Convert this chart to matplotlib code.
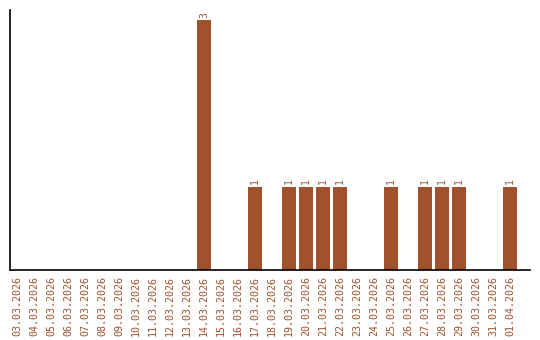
import matplotlib
matplotlib.use('Agg')
import matplotlib.pyplot as plt

# Data
dates = ['03.03.2026', '04.03.2026', '05.03.2026', '06.03.2026', '07.03.2026',
         '08.03.2026', '09.03.2026', '10.03.2026', '11.03.2026', '12.03.2026',
         '13.03.2026', '14.03.2026', '15.03.2026', '16.03.2026', '17.03.2026',
         '18.03.2026', '19.03.2026', '20.03.2026', '21.03.2026', '22.03.2026',
         '23.03.2026', '24.03.2026', '25.03.2026', '26.03.2026', '27.03.2026',
         '28.03.2026', '29.03.2026', '30.03.2026', '31.03.2026', '01.04.2026']
counts = [0, 0, 0, 0, 0, 0, 0, 0, 0, 0,
          0, 3, 0, 0, 1, 0, 1, 1, 1, 1,
          0, 0, 1, 0, 1, 1, 1, 0, 0, 1]

color = '#a0522d'

fig = plt.figure(figsize=(5.4, 3.4), dpi=100)
ax = fig.add_axes([10 / 540, 70 / 340, 520 / 540, 260 / 340])

x = list(range(len(dates)))
ax.bar(x, counts, width=0.82, color=color)

# value labels above non-zero bars
for xi, v in zip(x, counts):
    if v > 0:
        ax.text(xi, v + 0.03, str(v), rotation=90, ha='center', va='bottom',
                color=color, fontsize=7, family='DejaVu Sans Mono')

ax.set_xlim(-0.41, 30.18)
ax.set_ylim(0, 3.12)
ax.set_xticks(x)
ax.set_xticklabels(dates, rotation=90, color=color, fontsize=7.2,
                   family='DejaVu Sans Mono')
ax.set_yticks([])
ax.tick_params(axis='x', length=0, pad=4)

for s in ['top', 'right']:
    ax.spines[s].set_visible(False)
for s in ['left', 'bottom']:
    ax.spines[s].set_linewidth(1.2)

fig.savefig('out.png', dpi=100)
